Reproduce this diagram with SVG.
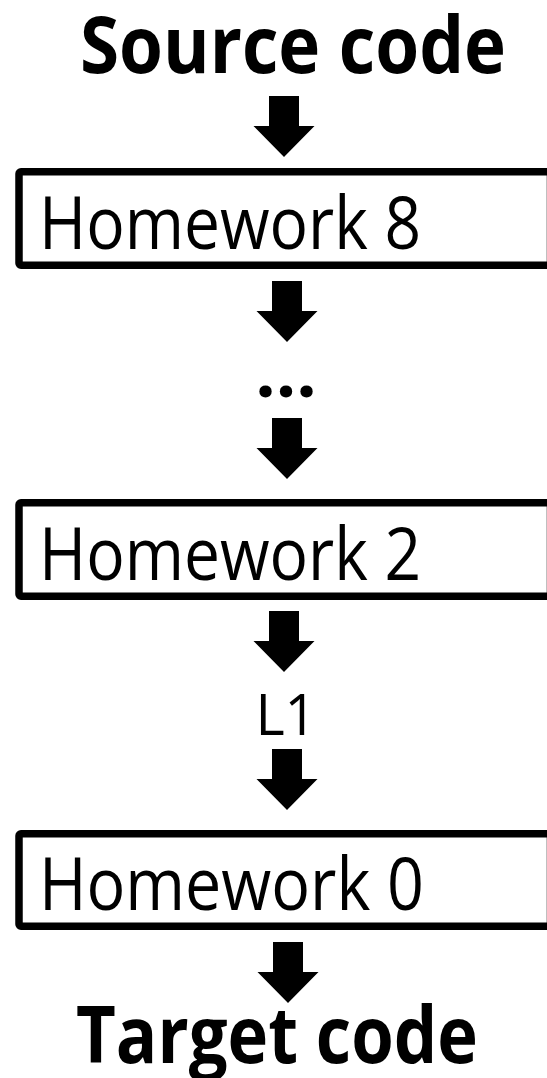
<svg xmlns="http://www.w3.org/2000/svg" xmlns:xlink="http://www.w3.org/1999/xlink" width="547" height="1078" viewBox="0 0 547 1078">
<style>
.title{font-family:"Open Sans","Liberation Sans",sans-serif;font-weight:700;font-size:78px;fill:#000}
.lbl{font-family:"Open Sans","Liberation Sans",sans-serif;font-weight:400;font-size:74px;fill:#000}
.mid{font-family:"Open Sans","Liberation Sans",sans-serif;font-weight:400;font-size:56px;fill:#000}
.dots{font-family:"Open Sans","Liberation Sans",sans-serif;font-weight:700;font-size:72px;fill:#000}
.box{fill:#fff;stroke:#000;stroke-width:7.5;stroke-linejoin:round}
</style>
<defs>
<path id="arrow" d="M-15,0 H15 V30 H30.5 L0,61 L-30.5,30 H-15 Z" fill="#000"/>
</defs>
<rect width="547" height="1078" fill="#fff"/>
<g id="source">
<text class="title" x="80" y="73" textLength="426" lengthAdjust="spacingAndGlyphs">Source code</text>
</g>
<g id="hw8">
<rect class="box" x="19" y="171.75" width="531.5" height="93.5" rx="2"/>
<text class="lbl" x="39" y="249" textLength="382" lengthAdjust="spacingAndGlyphs">Homework 8</text>
</g>
<g id="ellipsis">
<text class="dots" x="286" y="397" text-anchor="middle">...</text>
</g>
<g id="hw2">
<rect class="box" x="19" y="502.75" width="531.5" height="93.5" rx="2"/>
<text class="lbl" x="39" y="580" textLength="382" lengthAdjust="spacingAndGlyphs">Homework 2</text>
</g>
<g id="l1">
<text class="mid" x="286" y="735" text-anchor="middle">L1</text>
</g>
<g id="hw0">
<rect class="box" x="19" y="833.75" width="531.5" height="92.5" rx="2"/>
<text class="lbl" x="39" y="910" textLength="385" lengthAdjust="spacingAndGlyphs">Homework 0</text>
</g>
<g id="target">
<text class="title" x="76" y="1063" textLength="402" lengthAdjust="spacingAndGlyphs">Target code</text>
</g>
<g id="connectors">
<use xlink:href="#arrow" x="284" y="96"/>
<use xlink:href="#arrow" x="287" y="281"/>
<use xlink:href="#arrow" x="287" y="418"/>
<use xlink:href="#arrow" x="284" y="611"/>
<use xlink:href="#arrow" x="287" y="749"/>
<use xlink:href="#arrow" x="288" y="942"/>
</g>
</svg>
